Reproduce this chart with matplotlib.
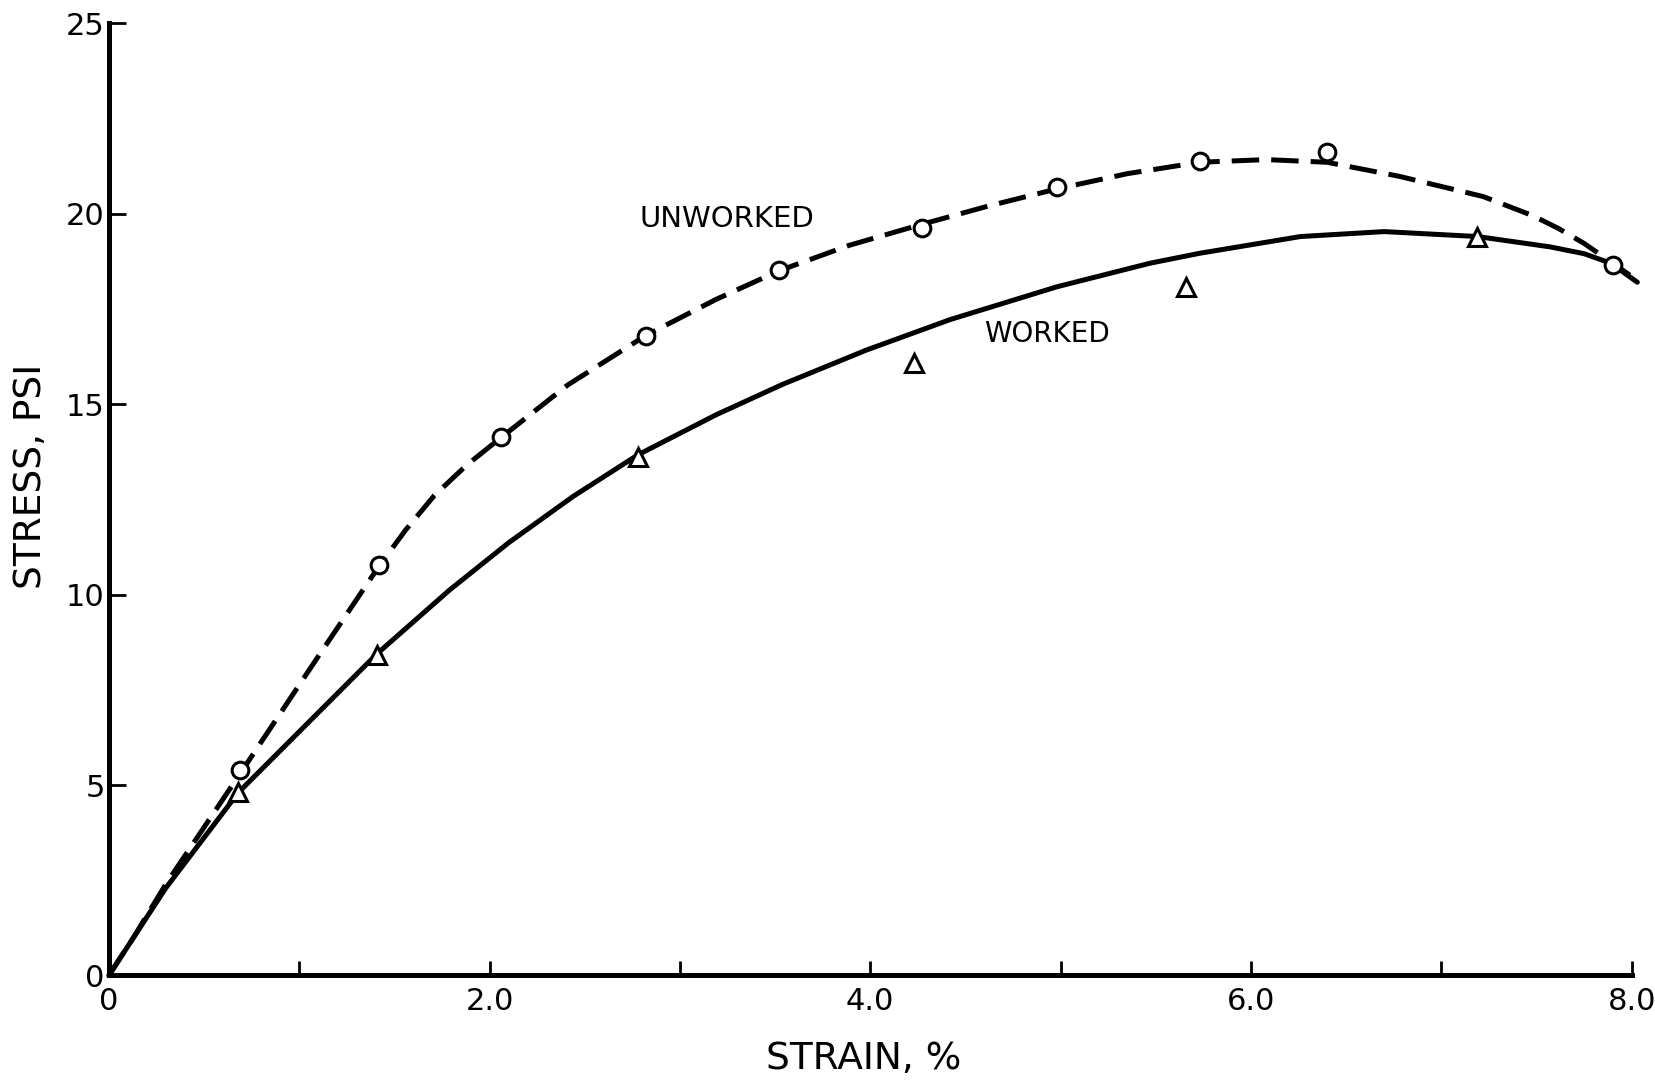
import numpy as np
import matplotlib
matplotlib.use("Agg")
import matplotlib.pyplot as plt
from matplotlib.ticker import MultipleLocator, FixedLocator, FixedFormatter

# measured points
unworked_x = [0.69, 1.42, 2.06, 2.82, 3.52, 4.27, 4.98, 5.73, 6.40, 7.90]
unworked_y = [5.40, 10.78, 14.15, 16.79, 18.52, 19.62, 20.69, 21.39, 21.61, 18.65]
worked_x = [0.68, 1.41, 2.78, 4.23, 5.66, 7.19]
worked_y = [4.83, 8.41, 13.62, 16.07, 18.08, 19.40]

# hand-drawn curves
unworked_curve_x = [0, 0.13, 0.30, 0.69, 1.09, 1.42, 1.56, 1.71, 1.88, 2.06, 2.41,
                    2.82, 3.19, 3.52, 3.89, 4.27, 4.62, 4.98, 5.35, 5.73, 6.08,
                    6.40, 6.78, 7.22, 7.48, 7.62, 7.75, 7.90, 8.03]
unworked_curve_y = [0, 1.0, 2.4, 5.3, 8.3, 10.75, 11.7, 12.6, 13.4, 14.12, 15.5,
                    16.8, 17.75, 18.5, 19.17, 19.72, 20.2, 20.65, 21.05, 21.35, 21.42,
                    21.35, 20.98, 20.45, 19.95, 19.6, 19.22, 18.7, 18.25]
worked_curve_x = [0, 0.30, 0.68, 1.41, 1.79, 2.10, 2.44, 2.78, 3.19, 3.54, 3.98,
                  4.42, 4.98, 5.47, 5.73, 6.26, 6.70, 7.19, 7.57, 7.75, 7.89, 8.03]
worked_curve_y = [0, 2.3, 4.8, 8.45, 10.12, 11.36, 12.58, 13.67, 14.72, 15.52, 16.42,
                  17.22, 18.08, 18.70, 18.96, 19.40, 19.53, 19.40, 19.13, 18.95, 18.70, 18.2]

x_major = [0, 2, 4, 6, 8]
x_labels = ["0", "2.0", "4.0", "6.0", "8.0"]
y_major = [0, 5, 10, 15, 20, 25]

plt.rcParams["font.family"] = "DejaVu Sans"

fig = plt.figure(figsize=(16.56, 10.81), dpi=100)
ax = fig.add_axes([0.0657, 0.0976, 0.9196, 0.8809])

ax.plot(unworked_curve_x, unworked_curve_y, color="black", lw=3.6,
        dashes=(5.5, 2.4), solid_capstyle="round", clip_on=False, zorder=2)
ax.plot(worked_curve_x, worked_curve_y, color="black", lw=3.6,
        solid_capstyle="round", solid_joinstyle="round", clip_on=False, zorder=2)

ax.plot(unworked_x, unworked_y, "o", ms=12, mfc="white", mec="black", mew=2.2,
        ls="none", clip_on=False, zorder=3)
ax.plot(worked_x, worked_y, "^", ms=13, mfc="white", mec="black", mew=2.2,
        ls="none", clip_on=False, zorder=3)

ax.text(3.245, 19.85, "UNWORKED", fontsize=21, ha="center", va="center")
ax.text(4.93, 16.85, "WORKED", fontsize=20, ha="center", va="center")

ax.set_xlim(0, 8)
ax.set_ylim(0, 25)
ax.xaxis.set_major_locator(FixedLocator(x_major))
ax.xaxis.set_major_formatter(FixedFormatter(x_labels))
ax.xaxis.set_minor_locator(MultipleLocator(1))
ax.yaxis.set_major_locator(FixedLocator(y_major))

for s in ["top", "right"]:
    ax.spines[s].set_visible(False)
for s in ["left", "bottom"]:
    ax.spines[s].set_linewidth(3.6)

ax.tick_params(axis="both", which="both", direction="in", width=2, labelsize=22)
ax.tick_params(axis="x", which="both", length=10, pad=8)
ax.tick_params(axis="y", which="major", length=12, pad=3)

ax.set_xlabel("STRAIN, %", fontsize=27)
ax.set_ylabel("STRESS, PSI", fontsize=27)
ax.xaxis.set_label_coords(0.496, -0.088)
ax.yaxis.set_label_coords(-0.051, 0.524)
ax.xaxis.label.set_va("center")
ax.yaxis.label.set_va("center")

fig.savefig("out.png", dpi=100, facecolor="white")
